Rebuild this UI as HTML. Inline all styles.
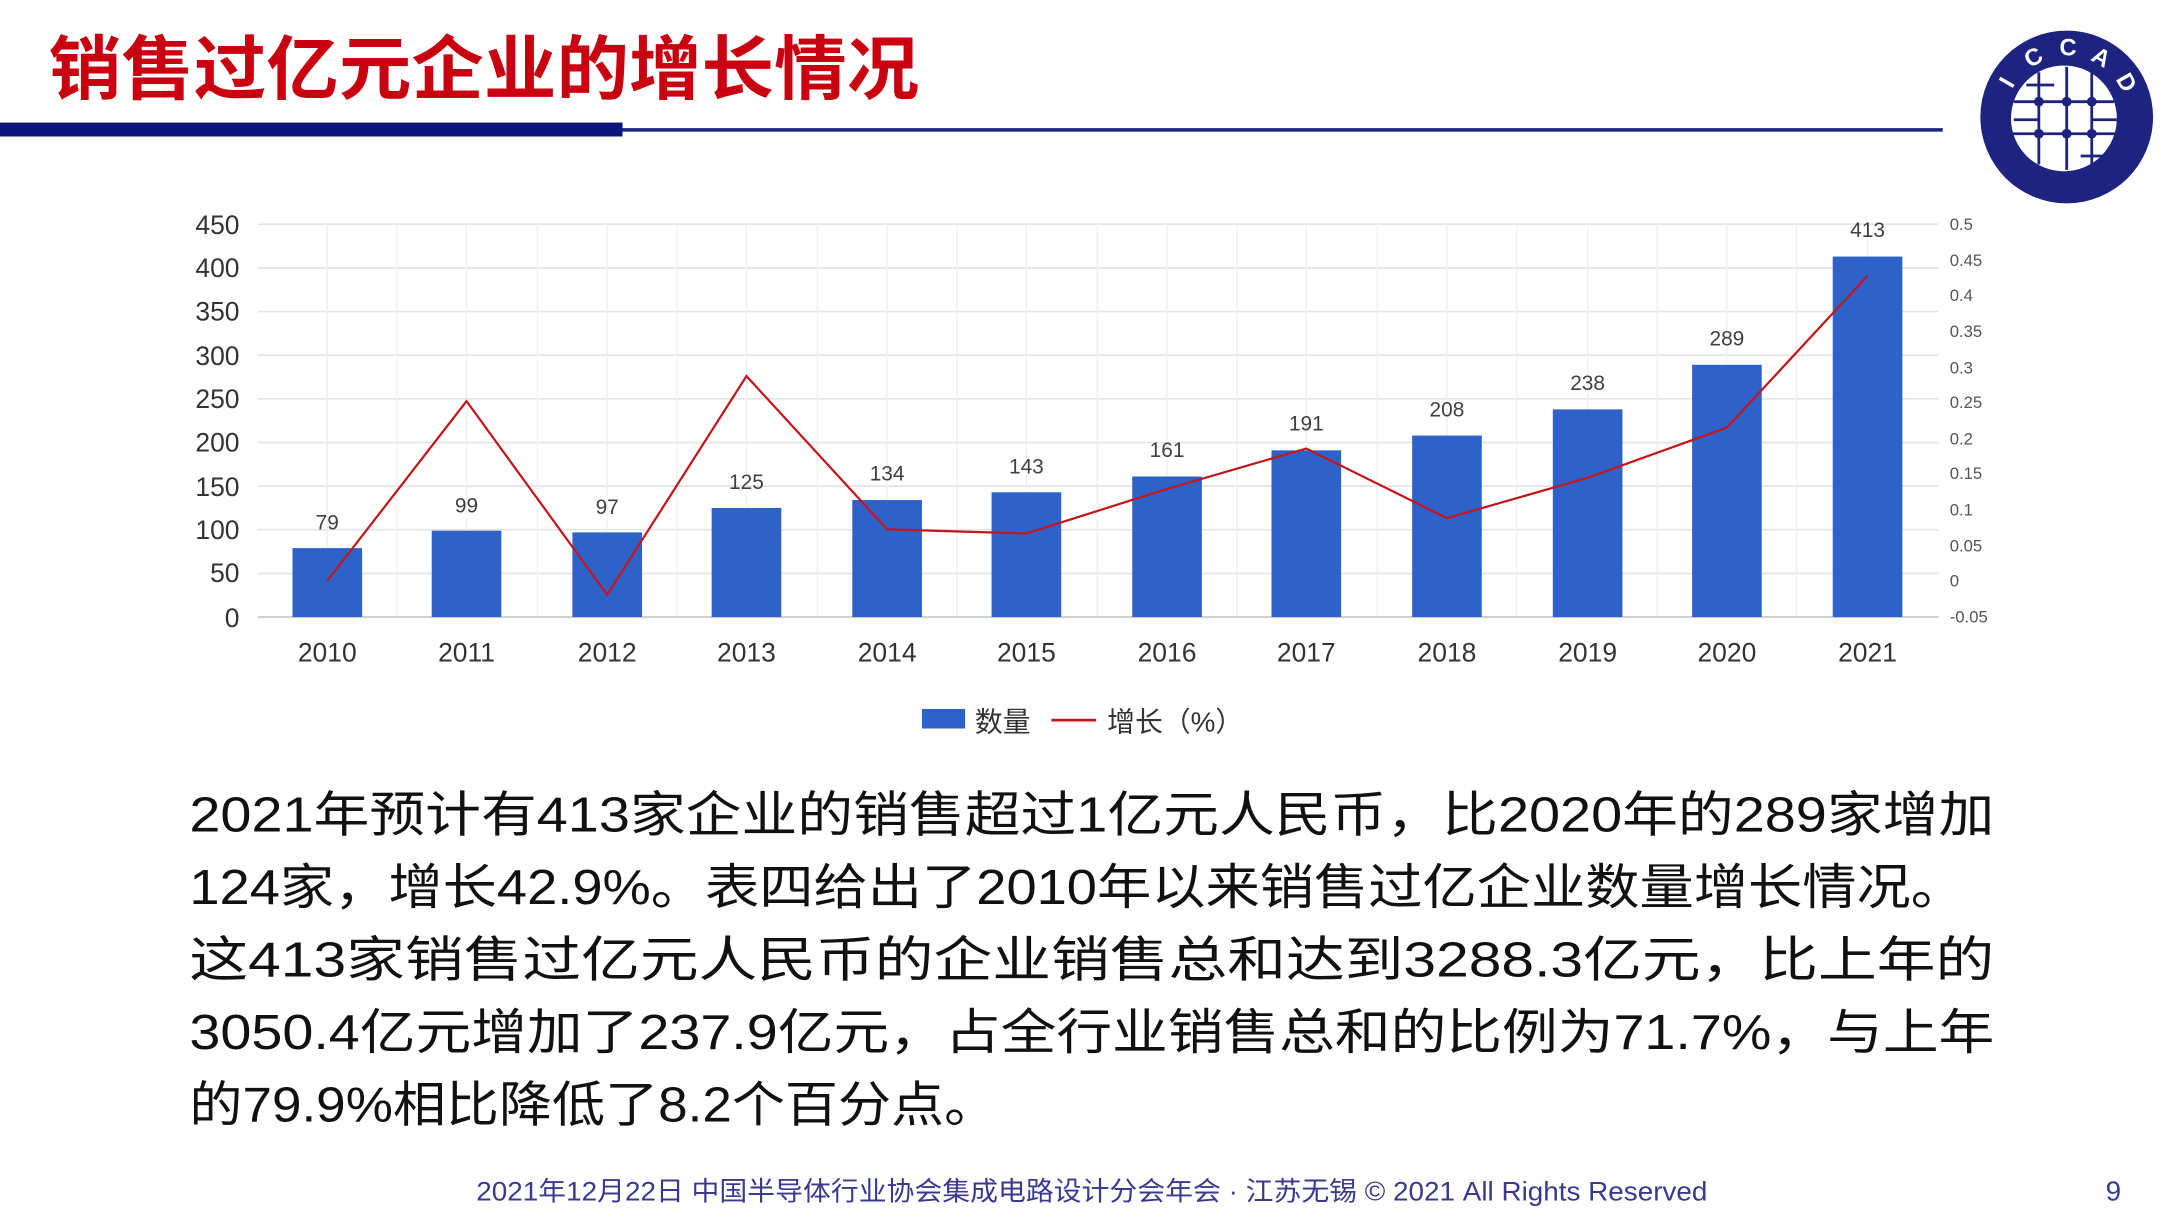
<!DOCTYPE html>
<html><head><meta charset="utf-8"><style>
html,body{margin:0;padding:0;background:#fff;}
svg{display:block;}
</style></head><body>
<svg width="2160" height="1216" viewBox="0 0 1551 873" preserveAspectRatio="none" xmlns="http://www.w3.org/2000/svg" font-family="'Liberation Sans','Noto Sans CJK SC',sans-serif">
<rect width="1551" height="873" fill="#fff"/>
<text x="35" y="67" font-size="50" font-weight="bold" fill="#c8000f" textLength="625" lengthAdjust="spacingAndGlyphs">销售过亿元企业的增长情况</text>
<rect x="0" y="88" width="447" height="10" fill="#0b1478"/>
<rect x="447" y="92" width="948" height="2.5" fill="#1a2380"/>
<circle cx="1484" cy="84" r="62" fill="#1d237e"/>
<circle cx="1482" cy="85" r="38" fill="#fff"/>
<g stroke="#1d237e" stroke-width="2" fill="none">
<line x1="1464" y1="52" x2="1464" y2="118"/><line x1="1484" y1="48" x2="1484" y2="122"/><line x1="1502" y1="52" x2="1502" y2="118"/>
<line x1="1446" y1="73" x2="1518" y2="73"/><line x1="1444" y1="96" x2="1520" y2="96"/>
<line x1="1455" y1="61" x2="1475" y2="61"/><line x1="1494" y1="112" x2="1513" y2="112"/><line x1="1446" y1="86" x2="1464" y2="86"/><line x1="1502" y1="86" x2="1520" y2="86"/>
</g>
<g fill="#1d237e"><circle cx="1464" cy="73" r="3.5"/><circle cx="1484" cy="73" r="3.5"/><circle cx="1502" cy="73" r="3.5"/><circle cx="1464" cy="96" r="3.5"/><circle cx="1484" cy="96" r="3.5"/><circle cx="1502" cy="96" r="3.5"/></g>
<g fill="#fff" font-size="17" font-weight="bold" text-anchor="middle">
<text x="1446" y="62" transform="rotate(-60 1446 62)">I</text>
<text x="1463" y="46" transform="rotate(-30 1463 46)">C</text>
<text x="1485" y="40">C</text>
<text x="1506" y="46" transform="rotate(30 1506 46)">A</text>
<text x="1522" y="62" transform="rotate(60 1522 62)">D</text>
</g>
<g stroke="#e4e4e4" stroke-width="1.2">
<line x1="185" y1="161" x2="1392" y2="161"/><line x1="185" y1="192.3" x2="1392" y2="192.3"/><line x1="185" y1="223.7" x2="1392" y2="223.7"/><line x1="185" y1="255" x2="1392" y2="255"/><line x1="185" y1="286.3" x2="1392" y2="286.3"/><line x1="185" y1="317.7" x2="1392" y2="317.7"/><line x1="185" y1="349" x2="1392" y2="349"/><line x1="185" y1="380.3" x2="1392" y2="380.3"/><line x1="185" y1="411.7" x2="1392" y2="411.7"/>
</g>
<g stroke="#f0f0f0" stroke-width="1">
<line x1="235" y1="161" x2="235" y2="443"/><line x1="285" y1="161" x2="285" y2="443"/><line x1="335" y1="161" x2="335" y2="443"/><line x1="386" y1="161" x2="386" y2="443"/><line x1="436" y1="161" x2="436" y2="443"/><line x1="486" y1="161" x2="486" y2="443"/><line x1="536" y1="161" x2="536" y2="443"/><line x1="587" y1="161" x2="587" y2="443"/><line x1="637" y1="161" x2="637" y2="443"/><line x1="687" y1="161" x2="687" y2="443"/><line x1="737" y1="161" x2="737" y2="443"/><line x1="788" y1="161" x2="788" y2="443"/><line x1="838" y1="161" x2="838" y2="443"/><line x1="888" y1="161" x2="888" y2="443"/><line x1="938" y1="161" x2="938" y2="443"/><line x1="989" y1="161" x2="989" y2="443"/><line x1="1039" y1="161" x2="1039" y2="443"/><line x1="1089" y1="161" x2="1089" y2="443"/><line x1="1140" y1="161" x2="1140" y2="443"/><line x1="1190" y1="161" x2="1190" y2="443"/><line x1="1240" y1="161" x2="1240" y2="443"/><line x1="1290" y1="161" x2="1290" y2="443"/><line x1="1341" y1="161" x2="1341" y2="443"/>
</g>
<line x1="185" y1="443" x2="1392" y2="443" stroke="#d0d0d0" stroke-width="1.5"/>
<g fill="#2f62c9">
<rect x="210" y="393.5" width="50" height="49.5"/>
<rect x="310" y="381" width="50" height="62"/>
<rect x="411" y="382.2" width="50" height="60.8"/>
<rect x="511" y="364.7" width="50" height="78.3"/>
<rect x="612" y="359" width="50" height="84"/>
<rect x="712" y="353.4" width="50" height="89.6"/>
<rect x="813" y="342.1" width="50" height="100.9"/>
<rect x="913" y="323.3" width="50" height="119.7"/>
<rect x="1014" y="312.7" width="50" height="130.3"/>
<rect x="1115" y="293.9" width="50" height="149.1"/>
<rect x="1215" y="261.9" width="50" height="181.1"/>
<rect x="1316" y="184.2" width="50" height="258.8"/>
</g>
<polyline fill="none" stroke="#c0161c" stroke-width="1.6" points="235,417 335,288 436,427 536,270 637,380 737,383 838,351 938,322 1039,372 1140,343 1240,307 1341,198"/>
<g font-size="15" fill="#404040" text-anchor="middle">
<text x="235" y="380">79</text><text x="335" y="368">99</text><text x="436" y="369">97</text><text x="536" y="351">125</text><text x="637" y="345">134</text><text x="737" y="340">143</text><text x="838" y="328">161</text><text x="938" y="309">191</text><text x="1039" y="299">208</text><text x="1140" y="280">238</text><text x="1240" y="248">289</text><text x="1341" y="170">413</text>
</g>
<g font-size="19" fill="#333" text-anchor="end">
<text x="172" y="168">450</text><text x="172" y="199">400</text><text x="172" y="230">350</text><text x="172" y="262">300</text><text x="172" y="293">250</text><text x="172" y="324">200</text><text x="172" y="356">150</text><text x="172" y="387">100</text><text x="172" y="418">50</text><text x="172" y="450">0</text>
</g>
<g font-size="12" fill="#555">
<text x="1400" y="165">0.5</text><text x="1400" y="191">0.45</text><text x="1400" y="216">0.4</text><text x="1400" y="242">0.35</text><text x="1400" y="268">0.3</text><text x="1400" y="293">0.25</text><text x="1400" y="319">0.2</text><text x="1400" y="344">0.15</text><text x="1400" y="370">0.1</text><text x="1400" y="396">0.05</text><text x="1400" y="421">0</text><text x="1400" y="447">-0.05</text>
</g>
<g font-size="19" fill="#333" text-anchor="middle">
<text x="235" y="475">2010</text><text x="335" y="475">2011</text><text x="436" y="475">2012</text><text x="536" y="475">2013</text><text x="637" y="475">2014</text><text x="737" y="475">2015</text><text x="838" y="475">2016</text><text x="938" y="475">2017</text><text x="1039" y="475">2018</text><text x="1140" y="475">2019</text><text x="1240" y="475">2020</text><text x="1341" y="475">2021</text>
</g>
<rect x="662" y="509" width="31" height="14" fill="#2f62c9"/>
<text x="700" y="525" font-size="20" fill="#333">数量</text>
<line x1="755" y1="517" x2="787" y2="517" stroke="#c0161c" stroke-width="2"/>
<text x="795" y="525" font-size="20" fill="#333">增长（%）</text>
<g font-size="35" fill="#111">
<text x="136" y="597" textLength="1296" lengthAdjust="spacingAndGlyphs">2021年预计有413家企业的销售超过1亿元人民币，比2020年的289家增加</text>
<text x="136" y="649" textLength="1275" lengthAdjust="spacingAndGlyphs">124家，增长42.9%。表四给出了2010年以来销售过亿企业数量增长情况。</text>
<text x="136" y="701" textLength="1296" lengthAdjust="spacingAndGlyphs">这413家销售过亿元人民币的企业销售总和达到3288.3亿元，比上年的</text>
<text x="136" y="753" textLength="1296" lengthAdjust="spacingAndGlyphs">3050.4亿元增加了237.9亿元，占全行业销售总和的比例为71.7%，与上年</text>
<text x="136" y="805" textLength="580" lengthAdjust="spacingAndGlyphs">的79.9%相比降低了8.2个百分点。</text>
</g>
<text x="342" y="862" font-size="19" fill="#3a3a8c" textLength="884" lengthAdjust="spacingAndGlyphs">2021年12月22日 中国半导体行业协会集成电路设计分会年会 · 江苏无锡 © 2021 All Rights Reserved</text>
<text x="1512" y="862" font-size="20" fill="#3a3a8c">9</text>
</svg>
</body></html>
